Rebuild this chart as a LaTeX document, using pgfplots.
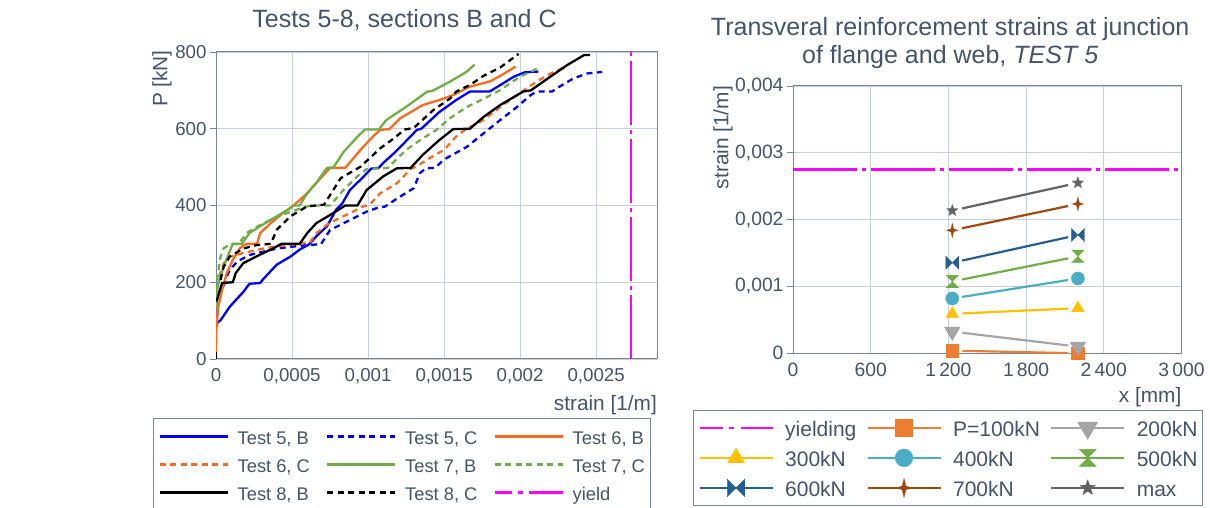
\documentclass[border=0pt]{standalone}
\usepackage{pgfplots}
\pgfplotsset{compat=1.18}
\usepackage{fontspec}
\setmainfont{Liberation Sans}
\definecolor{txt}{HTML}{44546A}
\definecolor{gridc}{HTML}{C5CFDF}
\definecolor{framec}{HTML}{7385A0}
\definecolor{cblue}{HTML}{0000FF}
\definecolor{corange}{HTML}{FA6A1E}
\definecolor{cgreen}{HTML}{70AD47}
\definecolor{cmag}{HTML}{FF00FF}
\definecolor{r100}{HTML}{ED7D31}
\definecolor{r200}{HTML}{A5A5A5}
\definecolor{r300}{HTML}{FFC000}
\definecolor{r400}{HTML}{4BACC6}
\definecolor{r500}{HTML}{70AD47}
\definecolor{r600}{HTML}{255E91}
\definecolor{r700}{HTML}{9E480E}
\definecolor{rmax}{HTML}{636363}

\pgfdeclareplotmark{hglass}{%
 \pgfpathmoveto{\pgfqpoint{-\pgfplotmarksize}{\pgfplotmarksize}}%
 \pgfpathlineto{\pgfqpoint{\pgfplotmarksize}{\pgfplotmarksize}}%
 \pgfpathlineto{\pgfqpoint{-\pgfplotmarksize}{-\pgfplotmarksize}}%
 \pgfpathlineto{\pgfqpoint{\pgfplotmarksize}{-\pgfplotmarksize}}%
 \pgfpathclose\pgfusepathqfillstroke}
\pgfdeclareplotmark{btie}{%
 \pgfpathmoveto{\pgfqpoint{-\pgfplotmarksize}{\pgfplotmarksize}}%
 \pgfpathlineto{\pgfqpoint{-\pgfplotmarksize}{-\pgfplotmarksize}}%
 \pgfpathlineto{\pgfqpoint{\pgfplotmarksize}{\pgfplotmarksize}}%
 \pgfpathlineto{\pgfqpoint{\pgfplotmarksize}{-\pgfplotmarksize}}%
 \pgfpathclose\pgfusepathqfillstroke}
\pgfdeclareplotmark{fstar}{%
 \pgfpathmoveto{\pgfqpoint{0pt}{\pgfplotmarksize}}%
 \pgfpathlineto{\pgfqpoint{0.2\pgfplotmarksize}{0.2\pgfplotmarksize}}%
 \pgfpathlineto{\pgfqpoint{0.8\pgfplotmarksize}{0pt}}%
 \pgfpathlineto{\pgfqpoint{0.2\pgfplotmarksize}{-0.2\pgfplotmarksize}}%
 \pgfpathlineto{\pgfqpoint{0pt}{-\pgfplotmarksize}}%
 \pgfpathlineto{\pgfqpoint{-0.2\pgfplotmarksize}{-0.2\pgfplotmarksize}}%
 \pgfpathlineto{\pgfqpoint{-0.8\pgfplotmarksize}{0pt}}%
 \pgfpathlineto{\pgfqpoint{-0.2\pgfplotmarksize}{0.2\pgfplotmarksize}}%
 \pgfpathclose\pgfusepathqfillstroke}
\pgfdeclareplotmark{vstar}{%
 \pgfpathmoveto{\pgfpointpolar{90}{\pgfplotmarksize}}%
 \pgfpathlineto{\pgfpointpolar{126}{0.42\pgfplotmarksize}}%
 \pgfpathlineto{\pgfpointpolar{162}{\pgfplotmarksize}}%
 \pgfpathlineto{\pgfpointpolar{198}{0.42\pgfplotmarksize}}%
 \pgfpathlineto{\pgfpointpolar{234}{\pgfplotmarksize}}%
 \pgfpathlineto{\pgfpointpolar{270}{0.42\pgfplotmarksize}}%
 \pgfpathlineto{\pgfpointpolar{306}{\pgfplotmarksize}}%
 \pgfpathlineto{\pgfpointpolar{342}{0.42\pgfplotmarksize}}%
 \pgfpathlineto{\pgfpointpolar{18}{\pgfplotmarksize}}%
 \pgfpathlineto{\pgfpointpolar{54}{0.42\pgfplotmarksize}}%
 \pgfpathclose\pgfusepathqfillstroke}

\pgfplotsset{
 common/.style={
   scale only axis, anchor=south west,
   axis line style={framec, line width=1pt},
   grid=major, major grid style={gridc, line width=0.8pt},
   tick align=outside, tick pos=left, xtick style={draw=none},
   ytick style={framec, line width=0.8pt}, major tick length=6pt,
   tick label style={txt},
   label style={txt, font=\fontsize{20.8}{24}\selectfont, inner sep=0pt},
   title style={txt, font=\fontsize{25}{28}\selectfont, align=center, anchor=center},
   scaled x ticks=false, scaled y ticks=false,
 },
 lline/.style={legend image code/.code={\draw[##1] (0pt,0pt) -- (68pt,0pt);}},
 lyield/.style={legend image code/.code={\draw[##1, dash pattern=on 17pt off 6pt on 5pt off 6pt on 40pt off 0pt] (0pt,0pt) -- (68pt,0pt);}},
 rline/.style={legend image code/.code={\draw[mark repeat=2,mark phase=2,##1, shorten <=0pt, shorten >=0pt, every mark/.append style={scale=1.35}] plot coordinates {(0pt,0pt) (36.5pt,0pt) (73pt,0pt)};}},
 ryield/.style={legend image code/.code={\draw[##1, dash pattern=on 23pt off 6.5pt on 5pt off 6.5pt on 40pt off 0pt] (0pt,0pt) -- (73pt,0pt);}},
 sB/.style={#1, line width=2.3pt, solid},
 sC/.style={#1, line width=2.3pt, dash pattern=on 6pt off 4.5pt},
 rs/.style n args={3}{#1, line width=2.2pt, shorten <=10pt, shorten >=10pt, mark=#2, mark size=#3,
   mark options={solid, fill=#1, draw=#1, line width=0.3pt, shorten <=0pt, shorten >=0pt}},
}

\begin{document}
\begin{tikzpicture}
\useasboundingbox (0pt,0pt) rectangle (1210pt,508pt);
% ---------------- left chart ----------------
\begin{axis}[common,
  at={(216pt,149pt)}, width=441pt, height=307pt,
  xmin=0, xmax=0.0029, ymin=0, ymax=800,
  xtick={0,0.0005,0.001,0.0015,0.002,0.0025},
  xticklabels={0,{0,0005},{0,001},{0,0015},{0,002},{0,0025}},
  ytick={0,200,400,600,800}, yticklabels={0,200,400,600,800},
  tick label style={font=\fontsize{18.7}{22}\selectfont},
  title={Tests 5-8, sections B and C},
  title style={at={(axis description cs:0.4274,1.0845)}},
  xlabel={strain [1/m]},
  xlabel style={at={(axis description cs:1,-0.15)}, anchor=east},
  ylabel={P [kN]},
  ylabel style={at={(axis description cs:-0.1224,1.0065)}, anchor=east, rotate=0},
  lline,
  legend columns=3,
  legend cell align=left,
  legend style={at={(axis description cs:-0.1429,-0.1922)}, anchor=north west,
    draw=framec, line width=0.8pt, fill=white, text=txt,
    font=\fontsize{18.3}{22}\selectfont,
    inner xsep=5pt, inner ysep=4pt, row sep=0pt,
    nodes={inner sep=0pt, text height=22pt, text depth=6pt},
    /tikz/every odd column/.append style={column sep=9pt},
    /tikz/every even column/.append style={column sep=16pt}},
]
\addplot[sB=cblue] coordinates {(0.000004,84)(0.00001,95)(0.00003,101)(0.00009,136)(0.00018,175)(0.00022,196)(0.00029,198)(0.00031,208)(0.0004,246)(0.00049,267)(0.00055,285)(0.00061,298)(0.00066,320)(0.00073,346)(0.00079,389)(0.00083,405)(0.00088,440)(0.00097,475)(0.00102,496)(0.00107,498)(0.0011,511)(0.00117,536)(0.00128,580)(0.00132,597)(0.00135,600)(0.00147,644)(0.00158,675)(0.00167,697)(0.0018,697)(0.00187,714)(0.00196,736)(0.00203,747)(0.00212,749)};
\addlegendentry{Test 5, B}
\addplot[sC=cblue] coordinates {(0.00005,190)(0.00007,214)(0.00009,232)(0.00014,254)(0.00022,271)(0.0004,288)(0.0006,297)(0.00069,299)(0.00075,336)(0.00086,358)(0.00099,384)(0.00107,395)(0.00111,397)(0.00119,418)(0.0013,445)(0.00134,484)(0.00138,497)(0.00144,498)(0.0015,520)(0.00165,553)(0.00176,588)(0.00187,623)(0.00198,657)(0.00207,688)(0.00211,697)(0.00221,697)(0.00226,710)(0.00235,731)(0.00244,744)(0.00254,748)};
\addlegendentry{Test 5, C}
\addplot[sB=corange] coordinates {(0,0)(0,23)(0.000002,75)(0.000015,136)(0.00004,180)(0.00007,223)(0.00011,258)(0.00016,290)(0.0002,300)(0.00027,300)(0.00029,328)(0.00036,354)(0.00044,380)(0.00051,400)(0.0006,432)(0.00066,459)(0.00075,498)(0.00085,498)(0.00095,545)(0.00103,579)(0.00108,597)(0.00114,599)(0.00121,627)(0.00136,662)(0.00147,675)(0.00156,688)(0.00167,710)(0.0018,723)(0.00187,738)(0.00197,762)};
\addlegendentry{Test 6, B}
\addplot[sC=corange] coordinates {(0.000005,160)(0.00002,215)(0.00005,249)(0.00009,267)(0.00018,276)(0.00029,286)(0.0004,294)(0.00055,300)(0.00062,305)(0.00066,328)(0.00073,350)(0.00079,363)(0.00088,380)(0.00097,398)(0.00101,402)(0.00108,432)(0.00119,458)(0.00128,495)(0.00132,502)(0.00139,520)(0.0015,545)(0.00158,580)(0.00165,601)(0.00174,618)(0.00187,657)(0.00198,688)(0.00209,718)(0.00218,740)(0.00229,760)};
\addlegendentry{Test 6, C}
\addplot[sB=cgreen] coordinates {(0.000005,136)(0.00001,189)(0.00005,240)(0.00009,280)(0.00011,300)(0.00017,300)(0.00022,328)(0.00029,346)(0.0004,372)(0.00049,393)(0.00051,400)(0.00055,400)(0.0006,432)(0.00066,459)(0.00073,498)(0.00077,498)(0.00084,540)(0.00093,579)(0.00098,598)(0.00107,598)(0.00112,623)(0.00125,657)(0.00139,697)(0.00142,698)(0.00154,723)(0.00165,749)(0.0017,767)};
\addlegendentry{Test 7, B}
\addplot[sC=cgreen] coordinates {(0,150)(0.000005,200)(0.00002,240)(0.00003,267)(0.00005,288)(0.00009,299)(0.00015,300)(0.0002,328)(0.00031,354)(0.00044,376)(0.00053,389)(0.00062,400)(0.00075,400)(0.00084,441)(0.00093,476)(0.00099,495)(0.00113,498)(0.00125,545)(0.00136,575)(0.00145,597)(0.00154,628)(0.00165,657)(0.00176,678)(0.00187,701)(0.002,736)(0.00212,758)};
\addlegendentry{Test 7, C}
\addplot[sB=black] coordinates {(0.000004,150)(0.00002,172)(0.00004,198)(0.00011,200)(0.00013,224)(0.00018,250)(0.00029,272)(0.00038,289)(0.00043,300)(0.00055,300)(0.0006,328)(0.00066,354)(0.00077,380)(0.00085,400)(0.00093,400)(0.00099,440)(0.0011,476)(0.00119,497)(0.00128,498)(0.00136,532)(0.00147,571)(0.00156,599)(0.00167,600)(0.00176,631)(0.00187,662)(0.00202,697)(0.00207,700)(0.0022,736)(0.00231,766)(0.00242,792)(0.00246,792)};
\addlegendentry{Test 8, B}
\addplot[sC=black] coordinates {(0.00003,206)(0.00005,240)(0.00009,267)(0.00018,288)(0.00027,297)(0.00036,300)(0.0004,337)(0.00049,372)(0.0006,398)(0.00071,402)(0.00082,471)(0.00088,485)(0.00095,501)(0.00108,549)(0.00117,575)(0.00124,598)(0.0013,602)(0.00143,649)(0.00154,679)(0.00158,697)(0.00167,714)(0.00176,738)(0.00187,760)(0.00199,795)};
\addlegendentry{Test 8, C}
\addplot[cmag, line width=2.3pt, dash pattern=on 64pt off 5pt on 4pt off 5pt, lyield] coordinates {(0.00273,0)(0.00273,800)};
\addlegendentry{yield}
\addplot[sB=black, forget plot] coordinates {(0,0)(0,18)};
\end{axis}
% ---------------- right chart ----------------
\begin{axis}[common,
  at={(793pt,154.7pt)}, width=388.5pt, height=267.3pt,
  xmin=0, xmax=3000, ymin=0, ymax=0.004,
  clip mode=individual,
  xtick={0,600,1200,1800,2400,3000},
  xticklabels={0,600,1\,200,1\,800,2\,400,3\,000},
  ytick={0,0.001,0.002,0.003,0.004},
  yticklabels={0,{0,001},{0,002},{0,003},{0,004}},
  tick label style={font=\fontsize{19.3}{22}\selectfont},
  title={Transveral reinforcement strains at junction\\of flange and web, \textit{TEST 5}},
  title style={at={(axis description cs:0.4046,1.139)}},
  xlabel={x [mm]},
  xlabel style={at={(axis description cs:1,-0.1635)}, anchor=east},
  ylabel={strain [1/m]},
  ylabel style={at={(axis description cs:-0.18,1)}, anchor=east},
  rline,
  legend columns=3,
  legend cell align=left,
  legend style={at={(axis description cs:-0.2574,-0.2121)}, anchor=north west,
    draw=framec, line width=0.8pt, fill=white, text=txt,
    font=\fontsize{21}{24}\selectfont,
    inner xsep=5pt, inner ysep=4pt, row sep=3pt,
    nodes={inner sep=0pt, text height=22pt, text depth=5pt},
    /tikz/every odd column/.append style={column sep=11.5pt},
    /tikz/every even column/.append style={column sep=10pt}},
]
\addplot[cmag, line width=2.3pt, dash pattern=on 64pt off 5pt on 4pt off 5pt, ryield] coordinates {(0,0.00275)(3000,0.00275)};
\addlegendentry{yielding}
\addplot[rs={r100}{square*}{6.3pt}] coordinates {(1230,0.00004)(2200,0.0)};
\addlegendentry{P=100kN}
\addplot[rs={r200}{triangle*}{7.3pt}, mark options={rotate=180}] coordinates {(1230,0.000325)(2200,0.0001)};
\addlegendentry{200kN}
\addplot[rs={r300}{triangle*}{7.3pt}] coordinates {(1230,0.00059)(2200,0.000675)};
\addlegendentry{300kN}
\addplot[rs={r400}{*}{6.6pt}] coordinates {(1230,0.00082)(2200,0.00112)};
\addlegendentry{400kN}
\addplot[rs={r500}{hglass}{6.3pt}] coordinates {(1230,0.001075)(2200,0.00145)};
\addlegendentry{500kN}
\addplot[rs={r600}{btie}{6.5pt}] coordinates {(1230,0.001355)(2200,0.00177)};
\addlegendentry{600kN}
\addplot[rs={r700}{fstar}{7pt}] coordinates {(1230,0.00184)(2200,0.002235)};
\addlegendentry{700kN}
\addplot[rs={rmax}{vstar}{6pt}] coordinates {(1230,0.002135)(2200,0.00255)};
\addlegendentry{max}
\end{axis}
\end{tikzpicture}
\end{document}
